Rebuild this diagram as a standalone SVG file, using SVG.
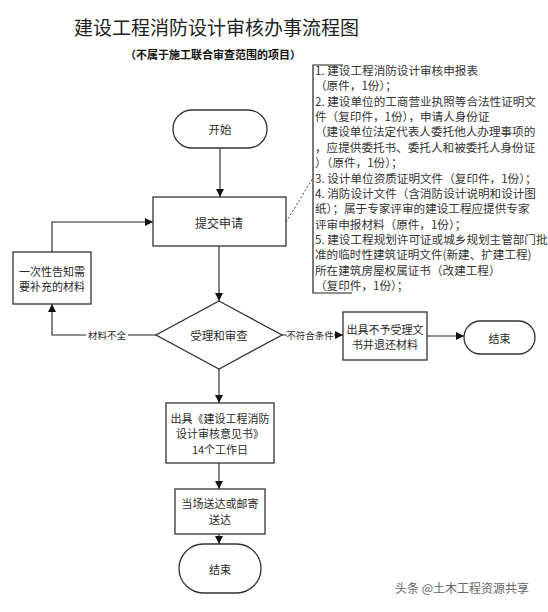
<svg xmlns="http://www.w3.org/2000/svg" width="548" height="612" viewBox="0 0 548 612">
<style>
text{font-family:"Noto Sans CJK SC","Liberation Sans",sans-serif;fill:#2a2a2a}
.n{font-size:11px;text-anchor:middle;dominant-baseline:central}
.box{fill:#fff;stroke:#333;stroke-width:1.3}
.c{fill:none;stroke:#222;stroke-width:1.1}
.lbl{font-size:9.5px;text-anchor:middle;dominant-baseline:central}
.note{font-size:11.6px;fill:#333;dominant-baseline:central}
</style>
<defs>
<marker id="ah" viewBox="0 0 10 10" refX="10" refY="5" markerWidth="8" markerHeight="8" markerUnits="userSpaceOnUse" orient="auto">
<path d="M0,0 L10,5 L0,10 z" fill="#111"/>
</marker>
</defs>
<rect width="548" height="612" fill="#fff"/>
<text x="74" y="26" style="font-size:19px;dominant-baseline:central;fill:#222">建设工程消防设计审核办事流程图</text>
<text x="125" y="54" style="font-size:11px;font-weight:bold;dominant-baseline:central;fill:#111">（不属于施工联合审查范围的项目）</text>

<g id="connectors">
<line class="c" x1="220" y1="148" x2="220" y2="197" marker-end="url(#ah)"/>
<line class="c" x1="219" y1="246" x2="219" y2="301" marker-end="url(#ah)"/>
<polyline class="c" points="156,335 52,335 52,304" marker-end="url(#ah)"/>
<polyline class="c" points="52,252 52,222 153,222" marker-end="url(#ah)"/>
<line class="c" x1="282" y1="335" x2="343" y2="335" marker-end="url(#ah)"/>
<line class="c" x1="427" y1="336" x2="464" y2="336" marker-end="url(#ah)"/>
<line class="c" x1="219" y1="369" x2="219" y2="403" marker-end="url(#ah)"/>
<line class="c" x1="219" y1="463" x2="219" y2="489" marker-end="url(#ah)"/>
<line class="c" x1="219" y1="534" x2="219" y2="544" marker-end="url(#ah)"/>
<rect x="86" y="328" width="42" height="14" fill="#fff"/>
<text class="lbl" x="107" y="335">材料不全</text>
<rect x="287" y="328" width="47" height="14" fill="#fff"/>
<text class="lbl" x="310" y="335">不符合条件</text>
</g>

<g id="start">
<rect class="box" x="173" y="110" width="94" height="38" rx="19"/>
<text class="n" x="220" y="129" style="font-size:11.5px">开始</text>
</g>
<g id="submit">
<rect class="box" x="153" y="197" width="133" height="49"/>
<text class="n" x="219" y="222" style="font-size:12px">提交申请</text>
</g>
<g id="supplement">
<rect class="box" x="13" y="252" width="78" height="52"/>
<text class="n" x="52" y="270.5">一次性告知需</text>
<text class="n" x="52" y="286">要补充的材料</text>
</g>
<g id="review">
<polygon class="box" points="219,301 282,335 219,369 156,335"/>
<text class="n" x="219" y="335" style="font-size:11.5px">受理和审查</text>
</g>
<g id="reject">
<rect class="box" x="343" y="312" width="84" height="48"/>
<text class="n" x="385" y="328.5">出具不予受理文</text>
<text class="n" x="385" y="344">书并退还材料</text>
</g>
<g id="end1">
<rect class="box" x="464" y="321" width="71" height="33" rx="16.5"/>
<text class="n" x="499.5" y="337.5">结束</text>
</g>
<g id="opinion">
<rect class="box" x="166" y="403" width="108" height="60"/>
<text class="n" x="220" y="417.5">出具《建设工程消防</text>
<text class="n" x="220" y="433">设计审核意见书》</text>
<text class="n" x="220" y="448.5">14个工作日</text>
</g>
<g id="deliver">
<rect class="box" x="175" y="489" width="90" height="45"/>
<text class="n" x="220" y="503">当场送达或邮寄</text>
<text class="n" x="220" y="518.5">送达</text>
</g>
<g id="end2">
<rect class="box" x="179" y="544" width="82" height="49" rx="24.5"/>
<text class="n" x="220" y="569">结束</text>
</g>

<g id="materials-note">
<line x1="286" y1="222" x2="313" y2="178" stroke="#444" stroke-width="1" stroke-dasharray="2,2"/>
<polyline points="343,65 313,65 313,293 352,293" fill="none" stroke="#222" stroke-width="1.2"/>
<text class="note" x="315" y="70">1. 建设工程消防设计审核申报表</text>
<text class="note" x="315" y="85.4">（原件，1份）；</text>
<text class="note" x="315" y="100.7">2. 建设单位的工商营业执照等合法性证明文</text>
<text class="note" x="315" y="116.1">件（复印件，1份），申请人身份证</text>
<text class="note" x="315" y="131.4">（建设单位法定代表人委托他人办理事项的</text>
<text class="note" x="315" y="146.8">，应提供委托书、委托人和被委托人身份证</text>
<text class="note" x="315" y="162.2">）（原件，1份）；</text>
<text class="note" x="315" y="177.5">3. 设计单位资质证明文件（复印件，1份）；</text>
<text class="note" x="315" y="192.9">4. 消防设计文件（含消防设计说明和设计图</text>
<text class="note" x="315" y="208.2">纸）；属于专家评审的建设工程应提供专家</text>
<text class="note" x="315" y="223.6">评审申报材料（原件，1份）；</text>
<text class="note" x="315" y="239">5. 建设工程规划许可证或城乡规划主管部门批</text>
<text class="note" x="315" y="254.3">准的临时性建筑证明文件(新建、扩建工程)</text>
<text class="note" x="315" y="269.7">所在建筑房屋权属证书（改建工程）</text>
<text class="note" x="315" y="285">（复印件，1份）；</text>
</g>

<text x="395" y="587" style="font-size:12px;fill:#666;dominant-baseline:central">头条 @土木工程资源共享</text>
</svg>
